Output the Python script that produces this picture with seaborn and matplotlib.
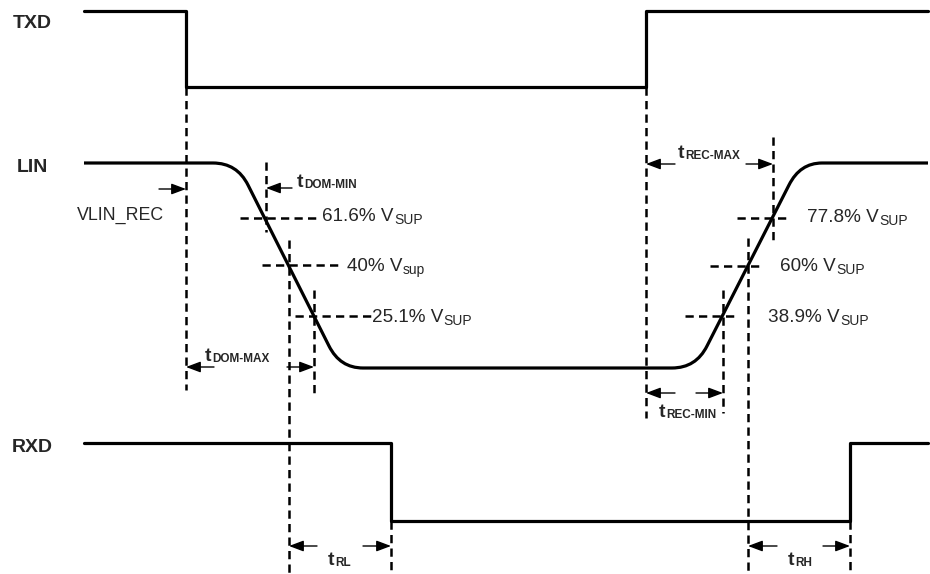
import numpy as np
import pandas as pd
import matplotlib
matplotlib.use('Agg')
import matplotlib.pyplot as plt
from matplotlib.path import Path
from matplotlib.patches import PathPatch, ArrowStyle
import seaborn as sns

# 时序图坐标：x 为时间(像素)，y 为电平(像素，向下为正)
txd_x = [84, 186, 186, 646, 646, 928]
txd_y = [11, 11, 87, 87, 11, 11]
rxd_x = [84, 391, 391, 850, 850, 928]
rxd_y = [443, 443, 521, 521, 443, 443]

# LIN 总线波形关键点（直线段 + 圆角控制点）
lin_x = [84, 213, 237, 248, 329, 340, 363, 672, 696, 707, 789, 800, 822, 928]
lin_y = [163, 163, 163, 185, 346, 368, 368, 368, 368, 346, 185, 163, 163, 163]
lin_code = ['M', 'L', 'C', 'C', 'L', 'C', 'C', 'L', 'C', 'C', 'L', 'C', 'C', 'L']

# 阈值交点
fall_pct = ['61.6%', '40%', '25.1%']
fall_sub = ['SUP', 'sup', 'SUP']
fall_y = [218, 265, 316]
fall_x = [265, 288, 314]
rise_pct = ['77.8%', '60%', '38.9%']
rise_sub = ['SUP', 'SUP', 'SUP']
rise_y = [218, 266, 316]
rise_x = [773, 748, 723]

# 垂直虚线 (x, y起, y止)
vdash = [(186, 87, 390), (266, 162, 232), (289, 240, 574), (314, 290, 393),
         (646, 87, 418), (773, 137, 240), (748, 238, 574), (723, 290, 413),
         (391, 521, 574), (850, 521, 574)]

sns.set_style('white')
plt.rcParams['font.family'] = ['Liberation Sans', 'DejaVu Sans']

fig = plt.figure(figsize=(9.3, 5.74), dpi=100)
ax = fig.add_axes([0, 0, 1, 1])
ax.set_xlim(0, 930)
ax.set_ylim(574, 0)
ax.axis('off')

LW = 2.3
DASH = (0, (3.3, 2.1))
DLW = 1.8

# 数字信号
sns.lineplot(x=txd_x, y=txd_y, sort=False, estimator=None, color='black', lw=LW, ax=ax)
sns.lineplot(x=rxd_x, y=rxd_y, sort=False, estimator=None, color='black', lw=LW, ax=ax)

# LIN 波形
codes = {'M': Path.MOVETO, 'L': Path.LINETO, 'C': Path.CURVE3}
lin_path = Path(np.column_stack([lin_x, lin_y]), [codes[c] for c in lin_code])
ax.add_patch(PathPatch(lin_path, fill=False, lw=LW, color='black', capstyle='butt'))

# 垂直虚线
for x, y0, y1 in vdash:
    ax.plot([x, x], [y0, y1], color='black', lw=DLW, ls=DASH)

# 水平阈值虚线
fall_span = [(240, 317), (262, 338), (295, 372)]
rise_span = [(737, 790), (710, 763), (685, 738)]
for (x0, x1), y in zip(fall_span + rise_span, fall_y + rise_y):
    ax.plot([x0, x1], [y, y], color='black', lw=DLW, ls=DASH)


def sub_label(x, y, main, sub, size, sub_size, weight, sub_va):
    t = ax.text(x, y, main, fontsize=size, fontweight=weight, va='baseline', ha='left')
    ax.annotate(sub, xy=(1, 0), xycoords=t, xytext=(0.3, 0.8 if sub_va == 'baseline' else 0),
                textcoords='offset points', fontsize=sub_size, fontweight=weight,
                va=sub_va, ha='left')


# 阈值文字
fall_tx = [322, 347, 372]
rise_tx = [807, 780, 768]
for x, y, p, s in zip(fall_tx + rise_tx, [221, 271, 322, 222, 271, 322],
                      fall_pct + rise_pct, fall_sub + rise_sub):
    sub_label(x, y, p + ' V', s, 13.6, 10, 'normal', 'baseline')

# 信号名
for name, x, y in [('TXD', 13, 28), ('LIN', 17, 172), ('RXD', 12, 452)]:
    ax.text(x, y, name, fontsize=14, fontweight='bold', va='baseline')
ax.text(77, 220, 'VLIN_REC', fontsize=12.8, va='baseline')

# 时间参数标注
t_labels = [('DOM-MIN', 297, 187), ('DOM-MAX', 205, 361), ('REC-MAX', 678, 158),
            ('REC-MIN', 659, 417), ('RL', 328, 565), ('RH', 788, 565)]
for sub, x, y in t_labels:
    sub_label(x, y, 't', sub, 14, 8.5, 'bold', 'bottom')

# 箭头 (尾, 头, y)
arrows = [(159, 186, 189), (292, 266, 188), (214, 186, 367), (287, 314, 367),
          (675, 646, 164), (746, 773, 164), (675, 646, 393), (696, 723, 393),
          (317, 289, 546), (363, 391, 546), (777, 748, 546), (823, 850, 546)]
style = ArrowStyle('-|>', head_length=0.8, head_width=0.3)
for x0, x1, y in arrows:
    ax.annotate('', xy=(x1, y), xytext=(x0, y),
                arrowprops=dict(arrowstyle=style, lw=1, color='black',
                                mutation_scale=11, shrinkA=0, shrinkB=0))

fig.savefig('out.png', dpi=100)
